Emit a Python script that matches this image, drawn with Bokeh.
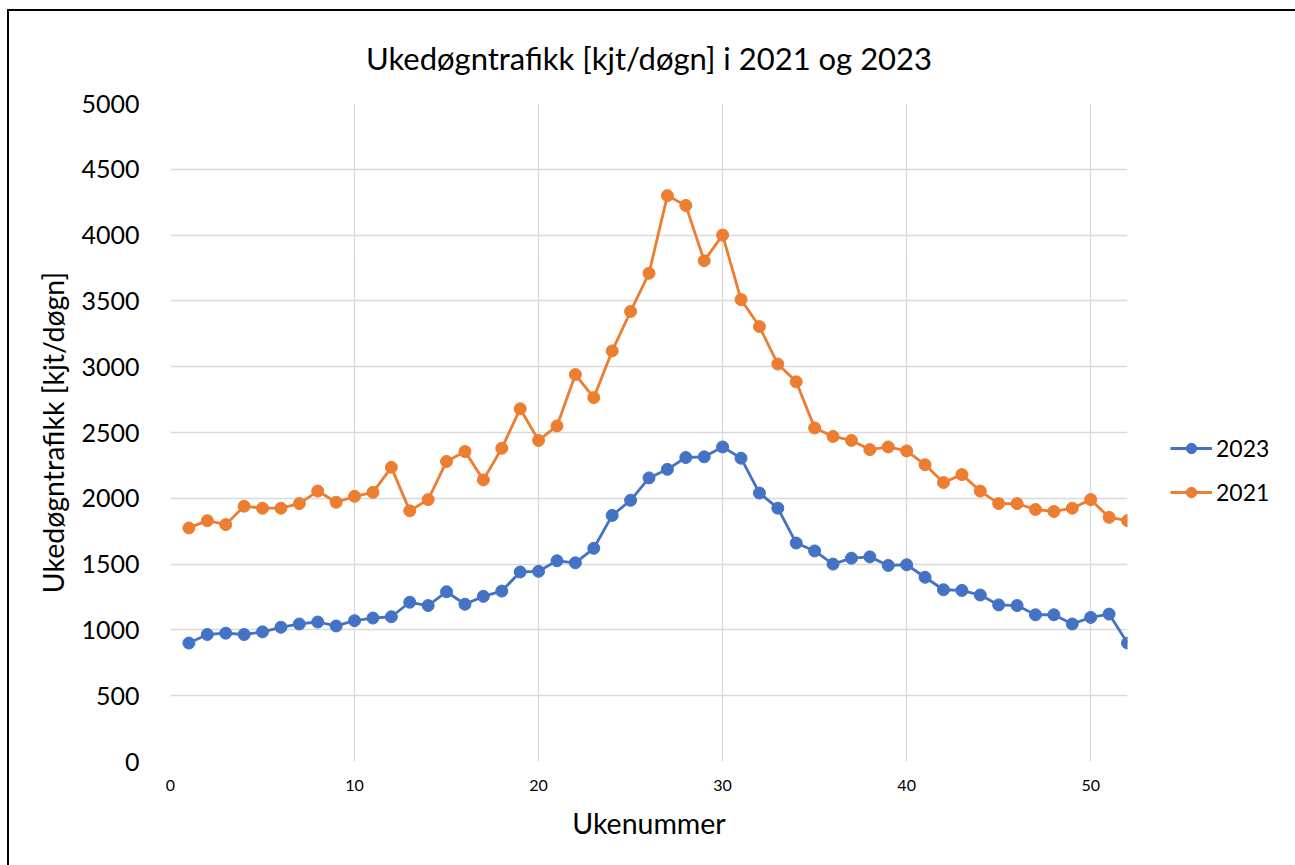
from bokeh.plotting import figure
from bokeh.models import Legend, LegendItem, ColumnDataSource, FixedTicker, Range1d
from bokeh.embed import file_html
from bokeh.resources import INLINE

weeks = list(range(1, 53))
v2023 = [900, 965, 975, 965, 985, 1020, 1045, 1060, 1030, 1070, 1090, 1100, 1210, 1185,
         1290, 1195, 1255, 1295, 1440, 1445, 1525, 1510, 1620, 1870, 1985, 2155, 2220,
         2310, 2315, 2390, 2305, 2040, 1925, 1660, 1600, 1500, 1545, 1555, 1490, 1495,
         1400, 1305, 1300, 1265, 1190, 1185, 1115, 1115, 1045, 1095, 1120, 900]
v2021 = [1775, 1830, 1800, 1940, 1925, 1925, 1960, 2055, 1970, 2015, 2045, 2235, 1905,
         1990, 2280, 2355, 2140, 2380, 2680, 2440, 2550, 2940, 2765, 3120, 3420, 3710,
         4300, 4225, 3805, 4000, 3510, 3305, 3020, 2885, 2535, 2470, 2440, 2370, 2390,
         2360, 2255, 2120, 2180, 2055, 1960, 1960, 1915, 1900, 1925, 1990, 1855, 1830]
series_names = ["2023", "2021"]
colors = ["#4472C4", "#ED7D31"]
x_ticks = [0, 10, 20, 30, 40, 50]
y_ticks = list(range(0, 5001, 500))

FONT = "Lato"

p = figure(frame_width=957, frame_height=658, output_backend="svg", toolbar_location=None,
           x_range=Range1d(0, 52), y_range=Range1d(0, 5000),
           min_border_left=161, min_border_right=166, min_border_top=92, min_border_bottom=104,
           title="Ukedøgntrafikk [kjt/døgn] i 2021 og 2023")
p.margin = (9, 0, 0, 7)
p.styles = {"border-left": "2px solid #000", "border-top": "2px solid #000",
            "border-right": "2px solid #000"}
p.title.align = "center"
p.title.vertical_align = "top"
p.title.text_font = FONT
p.title.text_font_size = "31px"
p.title.text_font_style = "normal"
p.title.text_color = "#000000"
p.title.offset = 0
p.title.standoff = 50

p.outline_line_color = None
p.background_fill_color = "white"
p.border_fill_color = "white"

p.xaxis.ticker = FixedTicker(ticks=x_ticks)
p.yaxis.ticker = FixedTicker(ticks=y_ticks)
for ax in (p.xaxis[0], p.yaxis[0]):
    ax.axis_line_color = None
    ax.major_tick_line_color = None
    ax.minor_tick_line_color = None
    ax.major_label_text_font = FONT
    ax.major_label_text_color = "#000000"
    ax.axis_label_text_font = FONT
    ax.axis_label_text_font_style = "normal"
    ax.axis_label_text_font_size = "28.5px"
    ax.axis_label_text_color = "#000000"
p.xaxis.major_label_text_font_size = "16px"
p.yaxis.major_label_text_font_size = "25px"
p.xaxis.axis_label = "Ukenummer"
p.yaxis.axis_label = "Ukedøgntrafikk [kjt/døgn]"
p.xaxis.major_label_standoff = 12
p.yaxis.major_label_standoff = 25
p.xaxis.axis_label_standoff = 12
p.yaxis.axis_label_standoff = 8

p.xgrid.ticker = FixedTicker(ticks=x_ticks)
p.ygrid.ticker = FixedTicker(ticks=y_ticks)
p.xgrid.grid_line_color = "#d9d9d9"
p.ygrid.grid_line_color = "#d9d9d9"
p.xgrid.grid_line_width = 1.3
p.ygrid.grid_line_width = 1.3

items = []
for name, vals, c in zip(series_names, [v2023, v2021], colors):
    src = ColumnDataSource(dict(x=weeks, y=vals))
    l = p.line("x", "y", source=src, line_color=c, line_width=2.8)
    s = p.scatter("x", "y", source=src, size=12, fill_color=c, line_color=c)
    items.append(LegendItem(label=name, renderers=[l, s]))

legend = Legend(items=items, location=(43, 255), orientation="vertical",
                label_text_font=FONT, label_text_font_size="23px", label_text_color="#000",
                border_line_color=None, background_fill_alpha=0, glyph_width=42,
                glyph_height=26, spacing=16, label_standoff=4, padding=0, margin=0)
p.add_layout(legend, "right")

open("out.html", "w").write(file_html(p, INLINE))
